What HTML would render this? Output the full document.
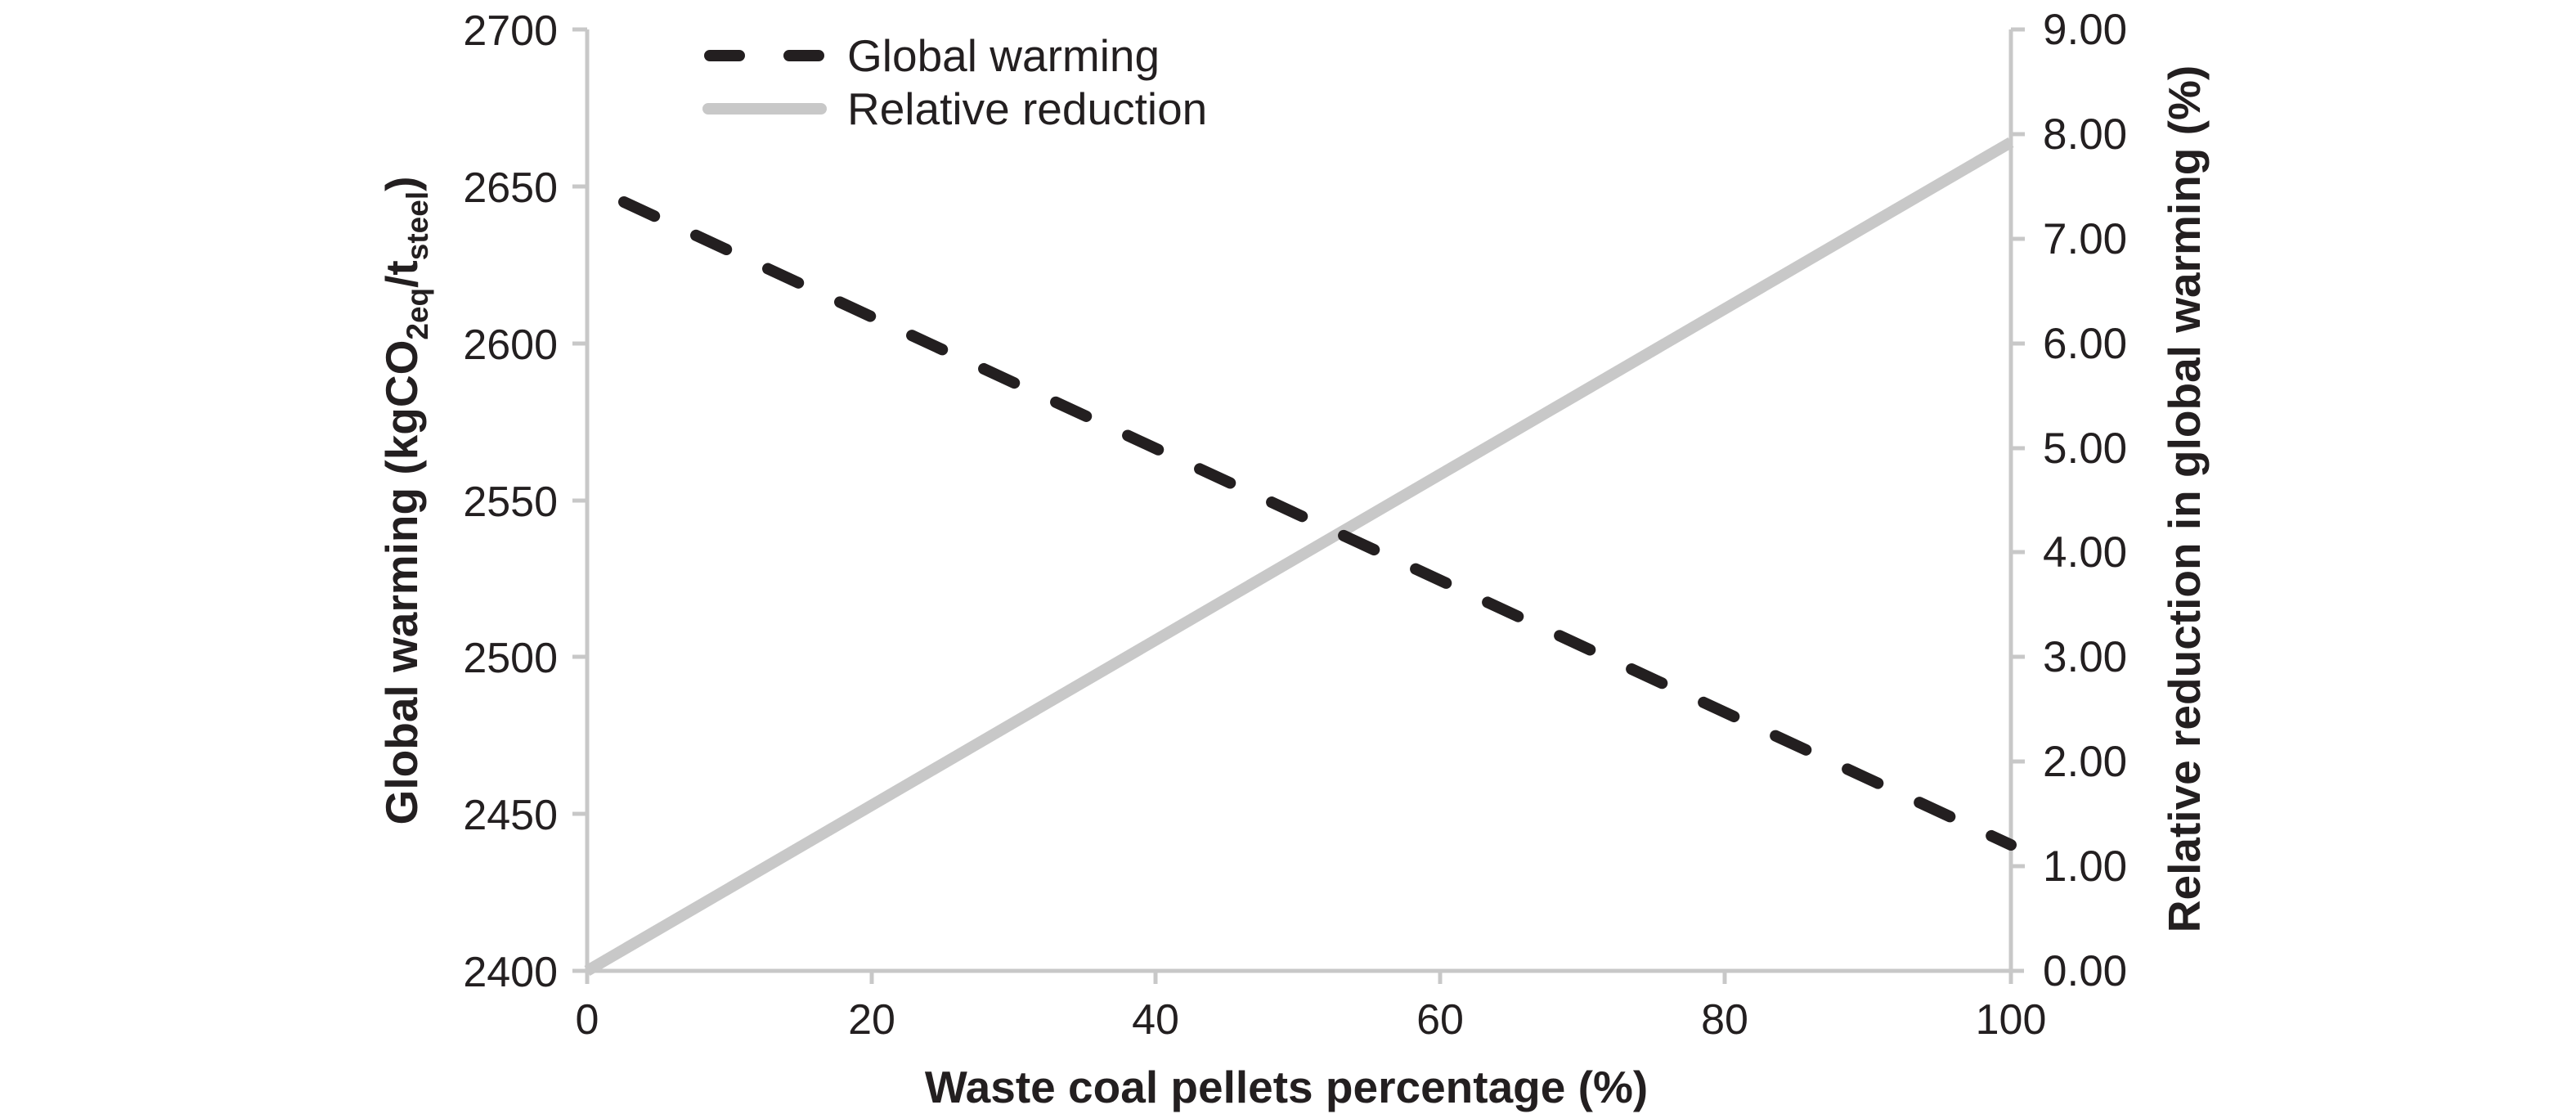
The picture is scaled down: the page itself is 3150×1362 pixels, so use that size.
<!DOCTYPE html>
<html><head><meta charset="utf-8"><style>
html,body{margin:0;padding:0;background:#fff;}
svg{display:block;}
text{font-family:"Liberation Sans",Arial,sans-serif;fill:#231f20;}
</style></head><body>
<svg width="3150" height="1362" viewBox="0 0 3150 1362" xmlns="http://www.w3.org/2000/svg">
<g stroke="#c8c8c8" stroke-width="5" fill="none">
<line x1="718" y1="36" x2="718" y2="1203"/>
<line x1="700" y1="1187" x2="2475" y2="1187"/>
<line x1="2459" y1="36" x2="2459" y2="1203"/>
<line x1="700" y1="36" x2="718" y2="36"/>
<line x1="700" y1="228" x2="718" y2="228"/>
<line x1="700" y1="420" x2="718" y2="420"/>
<line x1="700" y1="612" x2="718" y2="612"/>
<line x1="700" y1="803" x2="718" y2="803"/>
<line x1="700" y1="995" x2="718" y2="995"/>
<line x1="1066" y1="1187" x2="1066" y2="1203"/>
<line x1="1413" y1="1187" x2="1413" y2="1203"/>
<line x1="1761" y1="1187" x2="1761" y2="1203"/>
<line x1="2109" y1="1187" x2="2109" y2="1203"/>
<line x1="2459" y1="36" x2="2476" y2="36"/>
<line x1="2459" y1="164" x2="2476" y2="164"/>
<line x1="2459" y1="292" x2="2476" y2="292"/>
<line x1="2459" y1="420" x2="2476" y2="420"/>
<line x1="2459" y1="548" x2="2476" y2="548"/>
<line x1="2459" y1="675" x2="2476" y2="675"/>
<line x1="2459" y1="803" x2="2476" y2="803"/>
<line x1="2459" y1="931" x2="2476" y2="931"/>
<line x1="2459" y1="1059" x2="2476" y2="1059"/>
</g>
<line x1="718" y1="1187" x2="2459" y2="174" stroke="#c8c8c8" stroke-width="14"/>
<line x1="763" y1="247" x2="2459" y2="1033" stroke="#231f20" stroke-width="14" stroke-linecap="round" stroke-dasharray="41 56"/>
<g font-size="52" text-anchor="end">
<text x="682" y="55">2700</text>
<text x="682" y="247">2650</text>
<text x="682" y="439">2600</text>
<text x="682" y="631">2550</text>
<text x="682" y="822">2500</text>
<text x="682" y="1014">2450</text>
<text x="682" y="1206">2400</text>
</g>
<g font-size="53" text-anchor="start">
<text x="2498" y="54">9.00</text>
<text x="2498" y="182">8.00</text>
<text x="2498" y="310">7.00</text>
<text x="2498" y="438">6.00</text>
<text x="2498" y="566">5.00</text>
<text x="2498" y="693">4.00</text>
<text x="2498" y="821">3.00</text>
<text x="2498" y="949">2.00</text>
<text x="2498" y="1077">1.00</text>
<text x="2498" y="1205">0.00</text>
</g>
<g font-size="52" text-anchor="middle">
<text x="718" y="1264">0</text>
<text x="1066" y="1264">20</text>
<text x="1413" y="1264">40</text>
<text x="1761" y="1264">60</text>
<text x="2109" y="1264">80</text>
<text x="2459" y="1264">100</text>
</g>
<text x="1573" y="1348" font-size="55" font-weight="bold" text-anchor="middle">Waste coal pellets percentage (%)</text>
<text transform="translate(510,612) rotate(-90)" font-size="55" font-weight="bold" text-anchor="middle">Global warming (kgCO<tspan font-size="37" dy="13">2eq</tspan><tspan dy="-13">/t</tspan><tspan font-size="37" dy="13">steel</tspan><tspan dy="-13">)</tspan></text>
<text transform="translate(2690,610) rotate(-90)" font-size="55" font-weight="bold" text-anchor="middle">Relative reduction in global warming (%)</text>
<line x1="868" y1="68" x2="1002" y2="68" stroke="#231f20" stroke-width="14" stroke-linecap="round" stroke-dasharray="36 61"/>
<line x1="866" y1="133" x2="1004" y2="133" stroke="#c8c8c8" stroke-width="14" stroke-linecap="round"/>
<text x="1036" y="87" font-size="55">Global warming</text>
<text x="1036" y="152" font-size="55">Relative reduction</text>
</svg>
</body></html>
